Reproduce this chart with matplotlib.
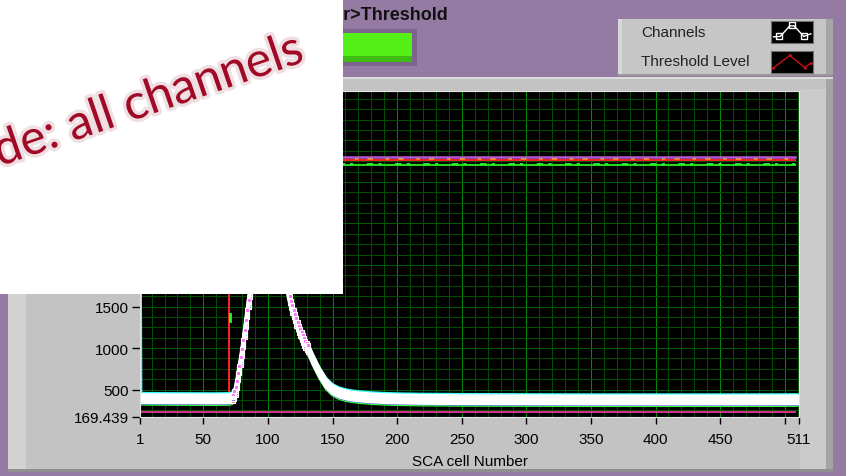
import numpy as np
import matplotlib.pyplot as plt
import matplotlib.patheffects as pe
from matplotlib.patches import Rectangle

W, H = 846, 477

# axis ranges and ticks of the waveform graph
cell_range = (1, 511)
adc_range = (169.439, 4095)
x_ticks = [1, 50, 100, 150, 200, 250, 300, 350, 400, 450, 500, 511]
x_tick_labels = ['1', '50', '100', '150', '200', '250', '300', '350', '400', '450', '', '511']
y_ticks = [169.439, 500, 1000, 1500, 2000, 2500, 3000, 3500, 4095]
y_tick_labels = ['169.439', '500', '1000', '1500', '2000', '2500', '3000', '3500', '4095']

# common pulse seen on all channels (SCA cell, ADC counts)
pulse_cells = [2, 10, 20, 30, 40, 50, 60, 70,
               72, 73, 74, 75, 76, 77, 78, 79, 80, 81, 82, 83, 84, 85, 86, 87, 88, 89, 90,
               92, 94, 96, 98, 100, 102, 104, 106, 108, 110,
               112, 113, 114, 115, 116, 117, 118, 119, 120, 121, 122, 123, 124, 125, 126, 127, 128, 129, 130,
               131, 135, 140, 145, 150, 155, 160, 165, 170,
               180, 190, 200, 220, 250, 300, 350, 400, 450, 500, 510]
pulse_adc = [398, 396, 395, 394, 394, 393, 393, 395,
             402, 412, 440, 490, 570, 660, 750, 850, 950, 1060, 1180, 1300, 1420, 1540, 1660, 1780, 1900, 2020, 2140,
             2380, 2600, 2780, 2900, 2960, 2950, 2880, 2740, 2540, 2320,
             2100, 1985, 1870, 1760, 1660, 1590, 1530, 1475, 1420, 1370, 1320, 1275, 1230, 1190, 1150, 1115, 1080, 1050, 1022,
             1000, 860, 705, 580, 505, 465, 442, 428, 418,
             405, 397, 392, 387, 384, 382, 380, 380, 380, 381, 382]

# pedestal spread of the overlaid channels
under_offsets = [-80, -66, 52, 64]
under_colors = ['#38ff38', '#3a3aff', '#ff48ff', '#38ffff']
over_offsets = [-50, -28, -6, 16, 38]
over_marks = ['#ff6a8a', '#5a6aff', '#48e8e8', '#ffffff', '#ff70ff']

# first-cell glitch on one channel
glitch_cells = [1, 2]
glitch_adc = [4095, 470]

# threshold level: trigger cell then flat level
threshold_cells = [70, 70, 508]
threshold_adc = [465, 3265, 3265]
trig_mark_cells = [71, 71]
trig_mark_adc = [1320, 1410]

# flat traces near the threshold and below the pedestal
flat_cells = [1, 508]
purple_adc = [3305, 3305]
orange_adc = [3278, 3278]
green_adc = [3198, 3198]
green_hi_adc = [3214, 3214]
pink_adc = [235, 235]

# legend glyphs
chan_icon_x = [0.06, 0.22, 0.45, 0.55, 0.78, 0.95]
chan_icon_y = [0.28, 0.3, 0.78, 0.78, 0.3, 0.42]
chan_icon_mx = [0.2, 0.5, 0.78]
chan_icon_my = [0.3, 0.8, 0.3]
thr_icon_x = [0.05, 0.45, 0.8, 0.95]
thr_icon_y = [0.22, 0.8, 0.25, 0.45]

purple_bg = '#957ba3'
fig = plt.figure(figsize=(W / 100, H / 100), dpi=100, facecolor=purple_bg)


def px_rect(x0, y0, x1, y1, color, z=-2):
    r = Rectangle((x0 / W, 1 - y1 / H), (x1 - x0) / W, (y1 - y0) / H,
                  transform=fig.transFigure, facecolor=color, edgecolor='none', zorder=z)
    fig.patches.append(r)


# graph frame
px_rect(8, 78, 833, 473, '#c3c3c3')
px_rect(8, 78, 26, 473, '#d2d2d2', -1.5)
px_rect(800, 90, 826, 470, '#cbcbcb', -1.5)
px_rect(826, 78, 833, 473, '#a4a4a4', -1.5)
px_rect(8, 78, 833, 80, '#dcdcdc', -1.5)
px_rect(8, 470, 833, 473, '#8f8f8f', -1.5)
# legend panel
px_rect(618, 20, 833, 77, '#c6c6c6')
px_rect(618, 20, 622, 77, '#d8d8d8', -1.5)
px_rect(826, 20, 833, 77, '#a6a6a6', -1.5)
px_rect(618, 75, 833, 77, '#9a9a9a', -1.5)
# LED indicator
px_rect(300, 30, 417, 67, '#7d638d')
px_rect(300, 34, 412, 63, '#55f017', -1.5)
px_rect(300, 57, 412, 63, '#3fbd12', -1.2)

fig.text(448 / W, 1 - 15 / H, 'Trigger>Threshold', ha='right', va='center',
         fontsize=13, fontweight='bold', family='Liberation Sans', color='#111111')
fig.text(641 / W, 1 - 33 / H, 'Channels', ha='left', va='center',
         fontsize=11, family='Liberation Sans', color='#222222')
fig.text(641 / W, 1 - 62 / H, 'Threshold Level', ha='left', va='center',
         fontsize=11, family='Liberation Sans', color='#222222')

# legend icons
ic1 = fig.add_axes([771 / W, 1 - 44 / H, 42 / W, 22 / H], facecolor='black')
ic1.plot(chan_icon_x, chan_icon_y, color='white', lw=1)
ic1.plot(chan_icon_mx, chan_icon_my, ls='none', marker='s', ms=4, mfc='none', mec='white', mew=1)
ic2 = fig.add_axes([771 / W, 1 - 74 / H, 42 / W, 22 / H], facecolor='black')
ic2.plot(thr_icon_x, thr_icon_y, color='#d01010', lw=1, marker='.', ms=2)
for a in (ic1, ic2):
    a.set_xlim(0, 1)
    a.set_ylim(0, 1)
    a.set_xticks([])
    a.set_yticks([])
    for s in a.spines.values():
        s.set_color('#707070')

# waveform graph
ax = fig.add_axes([140 / W, 1 - 418 / H, 659 / W, 326 / H], facecolor='black')
ax.set_xlim(*cell_range)
ax.set_ylim(*adc_range)

ax.set_xticks(np.arange(10, 511, 10), minor=True)
ax.set_yticks(np.arange(250, 4095, 125), minor=True)
ax.set_xticks(x_ticks)
ax.set_xticklabels(x_tick_labels)
ax.set_yticks(y_ticks)
ax.set_yticklabels(y_tick_labels)
ax.grid(which='minor', color='#004d00', lw=0.75)
ax.grid(which='major', axis='y', color='#005a00', lw=0.75)
ax.grid(which='major', axis='x', color='#008a00', lw=0.75)
ax.tick_params(which='minor', length=0)
ax.tick_params(which='major', direction='out', color='black', width=1,
               labelsize=11, labelfontfamily='Liberation Sans')
ax.tick_params(axis='x', length=5, pad=5.5)
ax.tick_params(axis='y', length=6, pad=2)
for s in ax.spines.values():
    s.set_color('#e4e4e4')
    s.set_linewidth(0.8)
ax.set_xlabel('SCA cell Number', fontsize=11, family='Liberation Sans', labelpad=6)

pulse = np.array(pulse_adc)
ax.plot(flat_cells, pink_adc, color='#ff3ca0', lw=1.2)
ax.plot(flat_cells, purple_adc, color='#b55ad4', lw=1.8)
ax.plot(flat_cells, green_adc, color='#22e022', lw=1.4)
ax.plot(flat_cells, green_hi_adc, color='#30ff30', lw=1.2, ls=(0, (4, 3, 2, 8)))
ax.plot(threshold_cells, threshold_adc, color='#ff2020', lw=1.4)
ax.plot(flat_cells, orange_adc, color='#ff9040', lw=1.3, ls=(0, (2, 5, 3, 7)))
ax.plot(trig_mark_cells, trig_mark_adc, color='#20ff20', lw=2)

# channel traces: coloured fringes under a dense white band, square points on the edges
for off, col in zip(under_offsets, under_colors):
    ax.plot(pulse_cells, pulse + off, color=col, lw=1.3)
for off, mc in zip(over_offsets, over_marks):
    ax.plot(pulse_cells, pulse + off, color='white', lw=2.6,
            marker='s', ms=3.2, mfc=mc, mec='white', mew=0.8, markevery=slice(9, 57))
ax.plot(glitch_cells, glitch_adc, color='#40ffff', lw=1.6)

# slide overlay with the caption
px_rect(0, 0, 343, 295, 'white', z=10)
cap = fig.text(306 / W, 1 - 62 / H, 'de: all channels', ha='right', va='baseline',
               rotation=19, rotation_mode='anchor', fontsize=35, family='Lato',
               color='#a00a26', zorder=11)
cap.set_path_effects([pe.withStroke(linewidth=5, foreground='#efdfe3')])

fig.savefig('out.png', dpi=100, facecolor=fig.get_facecolor())
